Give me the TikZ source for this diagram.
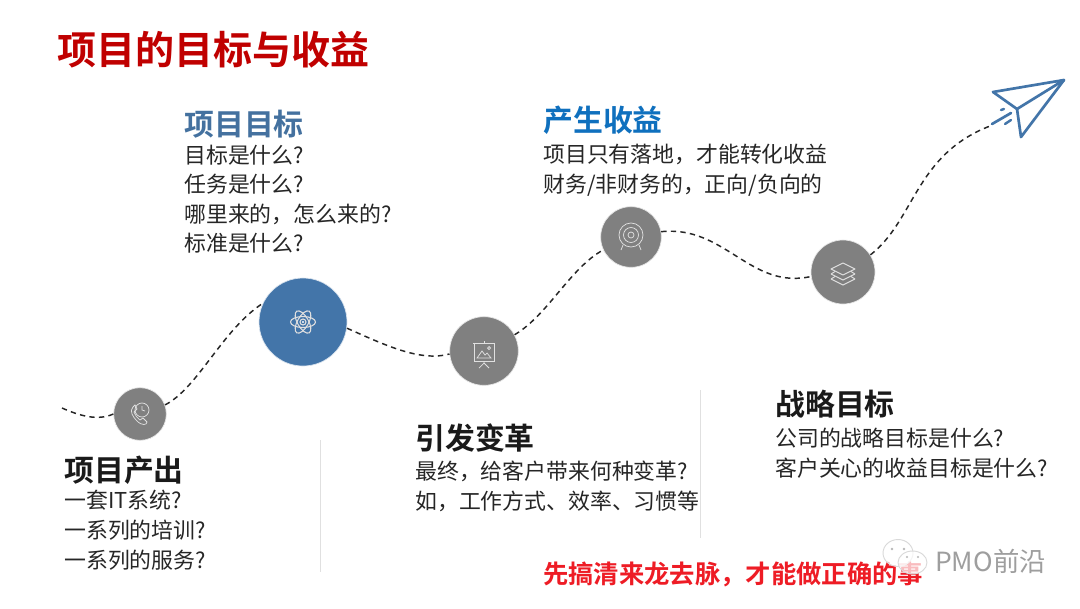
\documentclass[tikz,border=0pt]{standalone}
\usepackage{fontspec}
\setmainfont{Noto Sans CJK SC}
\newfontfamily\cjkb{Noto Sans CJK SC Bold}
\usetikzlibrary{calc}
\newcommand{\fwc}{\char"FF0C\relax}
\definecolor{titlered}{HTML}{C00000}
\definecolor{brightred}{HTML}{EE1C25}
\definecolor{steel}{HTML}{4375A9}
\definecolor{bluehead}{HTML}{0F70BE}
\definecolor{steelhead}{HTML}{44719F}
\definecolor{disc}{HTML}{808080}
\definecolor{ink}{HTML}{262626}
\definecolor{headink}{HTML}{1A1A1A}
\tikzset{
  x=0.75pt,y=-0.75pt,
  disc/.style={circle,fill=#1,draw=white!80!#1,line width=0.5pt,inner sep=0pt},
  trail/.style={draw=black!85,line width=1.1pt,dash pattern=on 4pt off 3.2pt},
  heading/.style={anchor=west,inner sep=0pt,font=\cjkb\fontsize{22.4}{26}\selectfont,text=#1},
  body/.style={anchor=north west,inner sep=0pt,align=left,text=ink,font=\fontsize{16.4}{22}\selectfont},
  rule/.style={draw=black!12,line width=0.5pt},
  icon/.style={draw=white!88!black,line width=0.55pt,fill=none},
  plane/.style={draw=steel,line width=2pt,line join=round,line cap=round},
  bubble/.style={draw=black!15,line width=0.7pt,fill=white,fill opacity=0.7},
}
\begin{document}
\begin{tikzpicture}
\useasboundingbox (0,0) rectangle (1080,608);
\fill[white] (0,0) rectangle (1080,608);

\node[anchor=west,inner sep=0pt,text=titlered,font=\cjkb\fontsize{29.3}{34}\selectfont] (title) at (57,50) {项目的目标与收益};

% dividers
\coordinate (r1a) at (320,440); \coordinate (r1b) at (320,572);
\coordinate (r2a) at (700,390); \coordinate (r2b) at (700,538);
\draw[rule] (r1a) -- (r1b);
\draw[rule] (r2a) -- (r2b);

% discs
\node[disc=disc,minimum size=39.5pt] (n1) at (140,414) {};
\node[disc=steel,minimum size=66pt] (n2) at (303,322) {};
\node[disc=disc,minimum size=51.5pt] (n3) at (484,351) {};
\node[disc=disc,minimum size=45.5pt] (n4) at (631,237) {};
\node[disc=disc,minimum size=48pt] (n5) at (843,272) {};

% trail
\coordinate (start) at (62,408);
\coordinate (tail) at (990,126);
\draw[trail] (start) .. controls (80,416) and (98,421) .. (n1.west);
\draw[trail] (n1.20) .. controls (198,388) and (222,330) .. (n2.155);
\draw[trail] (n2.-8) .. controls (385,345) and (420,362) .. (n3.185);
\draw[trail] (n3.28) .. controls (548,315) and (570,268) .. (n4.205);
\draw[trail] (n4.10) .. controls (725,225) and (750,290) .. (n5.188);
\draw[trail] (n5.32) .. controls (915,220) and (915,155) .. (tail);

% plane
\coordinate (p1) at (1064,80);
\coordinate (p2) at (993,92);
\coordinate (p3) at (1017,109);
\coordinate (p4) at (1021,137);
\draw[plane] (p1) -- (p2) -- (p3) -- cycle;
\draw[plane] (p3) -- (p4) -- (p1);
\draw[plane] (992,124) -- (1011,113);
\draw[plane,line width=1.8pt] (1001,110) -- (1004,109);
\draw[plane,line width=1.8pt] (1005,124) -- (1011,120);

% icon: phone + clock
\begin{scope}[shift={(n1.center)},icon]
  \draw[icon] (2,-4) circle (7);
  \draw[icon] (2,-8) -- (2,-4) -- (5,-3);
  \draw[icon] (-7,-7) .. controls (-11,-3) and (-7,3) .. (-3,7) .. controls (2,12) and (7,11) .. (7,8) -- (3,4) -- (0,6) .. controls (-3,4) and (-5,1) .. (-6,-2) -- (-3,-5) -- (-5,-9) -- cycle;
\end{scope}

% icon: atom
\begin{scope}[shift={(n2.center)}]
  \draw[icon,line width=0.8pt,rotate=0] (0,0) ellipse (12.5 and 5.5);
  \draw[icon,line width=0.8pt,rotate=60] (0,0) ellipse (12.5 and 5.5);
  \draw[icon,line width=0.8pt,rotate=120] (0,0) ellipse (12.5 and 5.5);
  \draw[icon,line width=0.8pt] (0,0) circle (3);
  \fill[white] (0,0) circle (1.1);
\end{scope}

% icon: presentation board
\begin{scope}[shift={(n3.center)},icon]
  \draw[icon] (-11,-8) -- (11,-8);
  \draw[icon] (-10,-8) rectangle (10,10);
  \draw[icon] (-7,7) -- (-2,0) -- (1,4) -- (3,2) -- (7,7) -- cycle;
  \draw[icon] (5,-3) circle (1.5);
  \draw[icon] (0,-10) -- (0,-8);
  \draw[icon] (0,10) -- (0,12) (-5,17) -- (0,12) -- (5,17);
\end{scope}

% icon: target
\begin{scope}[shift={(n4.center)}]
  \draw[icon] (0,-2) circle (12);
  \draw[icon] (0,-2) circle (7.5);
  \draw[icon] (0,-2) circle (3);
  \draw[icon] (-8,8) -- (-10,13) (8,8) -- (10,13);
\end{scope}

% icon: layers
\begin{scope}[shift={(n5.center)}]
  \draw[icon,line width=0.7pt] (-12,7) -- (0,13) -- (12,7);
  \draw[icon,line width=0.7pt] (-12,7) -- (-8,4.5) (12,7) -- (8,4.5);
  \draw[icon,line width=0.7pt] (-12,2) -- (0,8) -- (12,2);
  \draw[icon,line width=0.7pt] (-12,2) -- (-8,-0.5) (12,2) -- (8,-0.5);
  \draw[icon,line width=0.7pt,line join=round] (0,-9) -- (12,-3) -- (0,3) -- (-12,-3) -- cycle;
\end{scope}

% labels
\node[heading=headink] (h1) at (64,470) {项目产出};
\node[body,font=\fontsize{16.4}{22.5}\selectfont] (b1) at (64,490) {一套IT系统?\\一系列的培训?\\一系列的服务?};

\node[heading=steelhead] (h2) at (184,124) {项目目标};
\node[body] (b2) at (184,145) {目标是什么?\\任务是什么?\\哪里来的\fwc 怎么来的?\\标准是什么?};

\node[heading=headink] (h3) at (415,438) {引发变革};
\node[body] (b3) at (415,461) {最终\fwc 给客户带来何种变革?\\如\fwc 工作方式、效率、习惯等};

\node[heading=bluehead] (h4) at (543,120) {产生收益};
\node[body] (b4) at (543,144) {项目只有落地\fwc 才能转化收益\\财务/非财务的\fwc 正向/负向的};

\node[heading=headink] (h5) at (775,404) {战略目标};
\node[body] (b5) at (775,428) {公司的战略目标是什么?\\客户关心的收益目标是什么?};

\node[anchor=west,inner sep=0pt,text=brightred,font=\cjkb\fontsize{19}{23}\selectfont] (slogan) at (543,574) {先搞清来龙去脉\fwc 才能做正确的事};

% watermark
\draw[bubble] (898,553) ellipse (15 and 13.5);
\fill[black!28] (892,549) circle (1.3) (904,549) circle (1.3);
\draw[bubble] (912.5,562.5) ellipse (14.5 and 11.5);
\fill[black!28] (907,557) circle (1.2) (918,557) circle (1.2);
\node[anchor=west,inner sep=0pt,text=black!38,font=\fontsize{19.8}{22}\selectfont] (mark) at (935,561) {PMO前沿};
\end{tikzpicture}
\end{document}
